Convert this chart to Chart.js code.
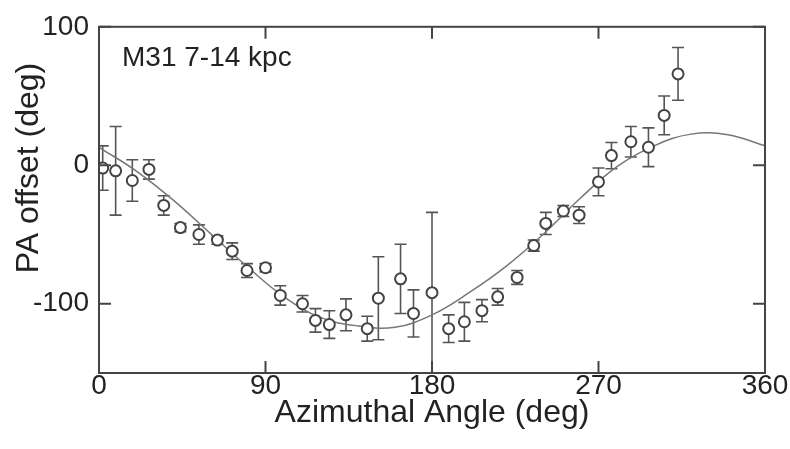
<!DOCTYPE html>
<html>
<head>
<meta charset="utf-8">
<script src="https://cdn.jsdelivr.net/npm/chart.js@4.4.1/dist/chart.umd.min.js"></script>
<style>
  html, body { margin: 0; padding: 0; background: #fff; }
  #wrap { width: 790px; height: 449px; }
</style>
</head>
<body>
<div id="wrap"><canvas id="chart" width="790" height="449"></canvas></div>
<script>
// measured position angle offsets along the ring
const angles = [2, 9, 18, 27, 35, 44, 54, 64, 72, 80, 90, 98, 110, 117, 124.5, 133.5, 145, 151,
  163, 170, 180, 189, 197.5, 207, 215.5, 226, 235, 241.5, 251, 259.5, 270, 277, 287.5, 297, 305.5, 313];
const offsets = [-2, -4, -11, -3, -29, -45, -50, -54, -62, -76, -74, -94, -100, -112, -115, -108, -118, -96,
  -82, -107, -92, -118, -113, -105, -95, -81, -58, -42, -33, -36, -12, 7, 17, 13, 36, 66];
const errors = [16, 32, 15, 7, 7, 3, 7, 3, 6, 5, 3, 7, 6, 8.5, 10, 11.5, 9, 30,
  25, 17, 58, 10, 14, 8, 6, 5, 4, 8, 4, 6, 10, 9.5, 11, 14, 14, 19];

// fitted model curve
const fitAngles = [0, 20, 40, 60, 80, 100, 120, 140, 160, 180, 200, 220, 240, 260, 280, 300, 320, 340, 360];
const fitValues = [13, -4, -25, -49, -73, -95, -110, -116, -117, -108, -92, -73, -50, -24, -1, 14, 22.5, 22, 14];

const xTicks = [0, 90, 180, 270, 360];
const yTicks = [-100, 0, 100];

const FONT = '"Liberation Sans", Arial, sans-serif';
const INK = '#555';

const errorBars = {
  id: 'errorBars',
  beforeDatasetsDraw(chart) {
    const { ctx, chartArea, scales: { x, y } } = chart;
    ctx.save();
    ctx.beginPath();
    ctx.rect(chartArea.left, chartArea.top, chartArea.right - chartArea.left, chartArea.bottom - chartArea.top);
    ctx.clip();
    ctx.strokeStyle = INK;
    ctx.lineWidth = 1.6;
    angles.forEach((a, i) => {
      const px = x.getPixelForValue(a);
      const top = y.getPixelForValue(offsets[i] + errors[i]);
      const bot = y.getPixelForValue(offsets[i] - errors[i]);
      ctx.beginPath();
      ctx.moveTo(px, top); ctx.lineTo(px, bot);
      ctx.moveTo(px - 6, top); ctx.lineTo(px + 6, top);
      ctx.moveTo(px - 6, bot); ctx.lineTo(px + 6, bot);
      ctx.stroke();
    });
    ctx.restore();
  }
};

// box frame, inward tick marks, the label inside and the rotated y title
const frame = {
  id: 'frame',
  afterDraw(chart) {
    const { ctx, chartArea: a, scales: { x, y } } = chart;
    ctx.save();
    ctx.strokeStyle = '#444';
    ctx.lineWidth = 2;
    ctx.strokeRect(a.left, a.top, a.right - a.left, a.bottom - a.top);
    ctx.beginPath();
    xTicks.forEach(v => {
      const px = x.getPixelForValue(v);
      ctx.moveTo(px, a.bottom); ctx.lineTo(px, a.bottom - 12);
      ctx.moveTo(px, a.top); ctx.lineTo(px, a.top + 12);
    });
    yTicks.forEach(v => {
      const py = y.getPixelForValue(v);
      ctx.moveTo(a.left, py); ctx.lineTo(a.left + 12, py);
      ctx.moveTo(a.right, py); ctx.lineTo(a.right - 12, py);
    });
    ctx.stroke();

    ctx.fillStyle = '#222';
    ctx.font = '28px ' + FONT;
    ctx.textBaseline = 'middle';
    ctx.fillText('M31 7-14 kpc', a.left + 23, 58);

    ctx.translate(29, 168);
    ctx.rotate(-Math.PI / 2);
    ctx.textAlign = 'center';
    ctx.font = '32px ' + FONT;
    ctx.fillText('PA offset (deg)', 0, 0);
    ctx.restore();
  }
};

new Chart(document.getElementById('chart'), {
  type: 'scatter',
  data: {
    datasets: [
      {
        data: angles.map((a, i) => ({ x: a, y: offsets[i] })),
        pointRadius: 5.5,
        pointBorderWidth: 2,
        pointBackgroundColor: '#fff',
        pointBorderColor: '#444',
        order: 0
      },
      {
        data: fitAngles.map((a, i) => ({ x: a, y: fitValues[i] })),
        showLine: true,
        tension: 0.4,
        pointRadius: 0,
        borderColor: '#777',
        borderWidth: 1.5,
        order: 1
      }
    ]
  },
  options: {
    responsive: false,
    animation: false,
    layout: { padding: { top: 21, right: 25, left: 0, bottom: 0 } },
    plugins: { legend: { display: false }, tooltip: { enabled: false } },
    scales: {
      x: {
        type: 'linear',
        min: 0,
        max: 360,
        afterBuildTicks: s => { s.ticks = xTicks.map(v => ({ value: v })); },
        afterFit: s => { s.height = 76; },
        grid: { display: false, drawTicks: false },
        border: { display: false },
        ticks: { color: '#222', padding: -4, font: { size: 28, family: FONT } },
        title: { display: true, text: 'Azimuthal Angle (deg)', color: '#222',
          padding: { top: 0, bottom: 17 }, font: { size: 32, family: FONT } }
      },
      y: {
        min: -150,
        max: 100,
        afterBuildTicks: s => { s.ticks = yTicks.map(v => ({ value: v })); },
        afterFit: s => { s.width = 99; },
        grid: { display: false, drawTicks: false },
        border: { display: false },
        ticks: { color: '#222', padding: 10, font: { size: 28, family: FONT } }
      }
    }
  },
  plugins: [errorBars, frame]
});
</script>
</body>
</html>
